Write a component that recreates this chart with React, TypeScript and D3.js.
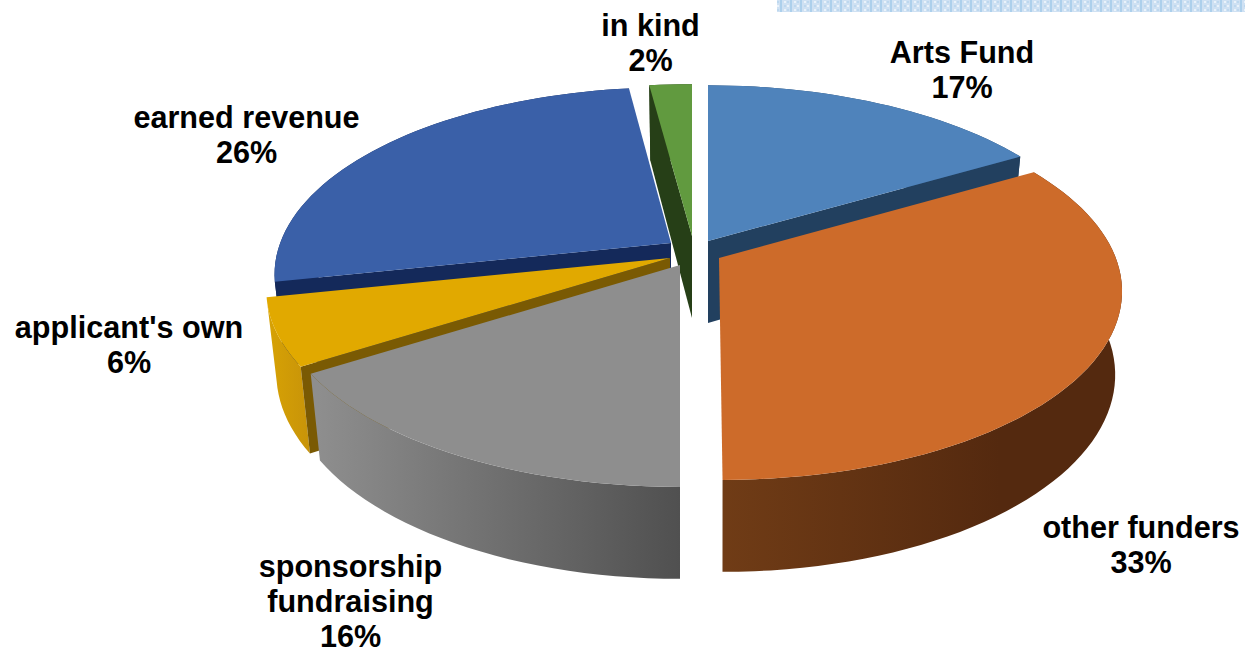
import React from "react";
import * as d3 from "d3";

const categories = ["Arts Fund", "other funders", "sponsorship fundraising", "applicant's own", "earned revenue", "in kind"];
const shares = [16.6, 33.4, 16, 5.7, 26.3, 2];

// layout
const W = 1245, H = 654;
const RX = 398, RY = 184.6, K = 0.168, DEPTH = 82, SY = 1.045;
const apexes: [number, number][] = [[708, 241], [719, 258], [680, 265], [670, 258], [671, 243], [692, 236]];
const radial = [0.985, 1.0, 1.0, 1.0, 0.985, 0.96];
const radialX = [0.985, 0.997, 1.0, 1.0, 0.982, 1.0];
const shear = [0, 0.016, 0, 0, 0, 0];
const scaleX = [0.975, 0.983, 0.975, 0.975, 0.975, 0.975];
const topColors = ["#4f83bb", "#cd6b2a", "#8e8e8e", "#e1a900", "#3a60a8", "#619a3f"];
const wallColors = ["#22405f", "#54290f", "#555555", "#7a5a03", "#14295a", "#263f17"];
const rimStops: [string, string][] = [["#2a4c70", "#2a4c70"], ["#703c16", "#54290f"], ["#8e8e8e", "#505050"], ["#d8a304", "#c4900a"], ["#14295a", "#14295a"], ["#263f17", "#263f17"]];
const wallEdge: ("start" | "end" | null)[] = ["end", null, null, "start", "start", "start"];
const drawOrder = [0, 5, 4, 3, 1, 2];
const labelNames = [["Arts Fund"], ["other funders"], ["sponsorship", "fundraising"], ["applicant's own"], ["earned revenue"], ["in kind"]];
const labelPos: [number, number][] = [[962, 63], [1141, 538], [350.5, 577], [129, 338], [246.5, 128], [650.5, 36]];

const arcs = d3.pie<number>().sort(null).value((d) => d)(shares);

function top(i: number, th: number, r = 1): [number, number] {
  const u = Math.sin(th) * r, v = Math.cos(th) * r;
  const w = 1 + K * v;
  const dy = -(RY * v) / w * radial[i];
  return [apexes[i][0] + (RX * u) / w * radialX[i] + shear[i] * dy, apexes[i][1] + dy];
}
function bottom(i: number, th: number, r = 1): [number, number] {
  const [x, y] = top(i, th, r);
  return [apexes[i][0] + (x - apexes[i][0]) * scaleX[i], apexes[i][1] + (y - apexes[i][1]) * SY + DEPTH];
}
const line = d3.line<[number, number]>();
function sweep(a: number, b: number): number[] {
  const n = Math.max(2, Math.ceil(((b - a) / Math.PI) * 90));
  return d3.range(n + 1).map((k) => a + ((b - a) * k) / n);
}

export default function App() {
  return (
    <svg width={W} height={H} viewBox={`0 0 ${W} ${H}`} style={{ position: "absolute", left: 0, top: 0, display: "block", background: "#fff" }}>
      <defs>
        <pattern id="band" width="10" height="8" patternUnits="userSpaceOnUse">
          <rect width="10" height="8" fill="#cfe1f3" />
          <rect x="0" y="0" width="2" height="8" fill="#add0ec" />
          <rect x="4" y="1" width="2" height="2" fill="#eaf3fb" />
          <rect x="7" y="5" width="2" height="2" fill="#eaf3fb" />
          <rect x="4" y="5" width="2" height="2" fill="#bdd8ef" />
          <rect x="7" y="1" width="2" height="2" fill="#bdd8ef" />
        </pattern>
        {rimStops.map((s, i) => (
          <linearGradient key={i} id={`rim${i}`} gradientUnits="userSpaceOnUse" x1={i === 1 ? 722 : i === 2 ? 318 : 265} x2={i === 1 ? 1000 : i === 2 ? 680 : 320} y1="0" y2="0">
            <stop offset="0" stopColor={s[0]} />
            <stop offset="1" stopColor={s[1]} />
          </linearGradient>
        ))}
      </defs>
      <rect x="777" y="0" width={W - 777} height="12" fill="url(#band)" />
      {drawOrder.map((i) => {
        const a = arcs[i];
        const ths = sweep(a.startAngle, a.endAngle);
        const rimPts = [...ths.map((t) => top(i, t)), ...ths.slice().reverse().map((t) => bottom(i, t))];
        const topPts: [number, number][] = [apexes[i], ...ths.map((t) => top(i, t))];
        const edge = wallEdge[i];
        const eth = edge === "start" ? a.startAngle : a.endAngle;
        const wallPts: [number, number][] = [apexes[i], top(i, eth), bottom(i, eth), bottom(i, eth, 0)];
        return (
          <g key={categories[i]}>
            <path d={line(rimPts) + "Z"} fill={`url(#rim${i})`} />
            {edge && <path d={line(wallPts) + "Z"} fill={wallColors[i]} />}
            <path d={line(topPts) + "Z"} fill={topColors[i]} />
          </g>
        );
      })}
      {labelNames.map((ls, i) => {
        const lines = [...ls, `${Math.round(shares[i])}%`];
        return (
          <text key={i} x={labelPos[i][0]} y={labelPos[i][1]} textAnchor="middle" fontFamily="'Liberation Sans', Arial, sans-serif" fontWeight="bold" fontSize="30.6" fill="#000">
            {lines.map((l, j) => (
              <tspan key={j} x={labelPos[i][0]} dy={j === 0 ? 0 : 35}>{l}</tspan>
            ))}
          </text>
        );
      })}
    </svg>
  );
}
